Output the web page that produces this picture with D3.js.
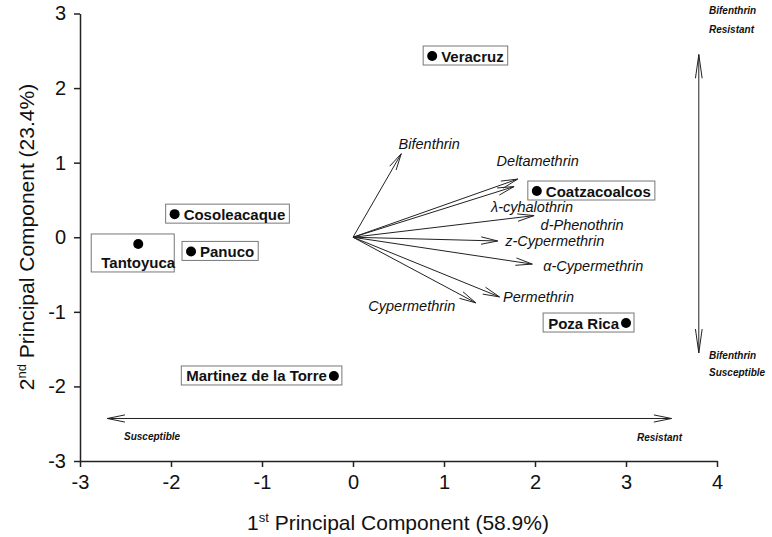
<!DOCTYPE html>
<html>
<head>
<meta charset="utf-8">
<script src="https://cdn.jsdelivr.net/npm/d3@7"></script>
<style>
  body { margin: 0; background: #fff; }
  svg { font-family: "Liberation Sans", Arial, sans-serif; }
</style>
</head>
<body>
<svg id="chart" width="772" height="537"></svg>
<script>
// sites (PCA scores)
const sites = ["Veracruz", "Coatzacoalcos", "Cosoleacaque", "Tantoyuca", "Panuco", "Poza Rica", "Martinez de la Torre"];
const siteX = [0.87, 2.02, -1.96, -2.36, -1.78, 3.00, -0.21];
const siteY = [2.43, 0.62, 0.31, -0.09, -0.19, -1.15, -1.86];
const labelSide = ["right", "right", "right", "below", "right", "left", "left"];

// insecticide loadings
const chems = ["Bifenthrin", "Deltamethrin", "λ-cyhalothrin", "d-Phenothrin", "z-Cypermethrin", "α-Cypermethrin", "Permethrin", "Cypermethrin"];
const chemX = [0.53, 1.81, 1.77, 1.99, 1.59, 1.97, 1.61, 1.35];
const chemY = [1.12, 0.78, 0.68, 0.29, -0.05, -0.36, -0.80, -0.88];
// label offsets in px
const chemDx = [28, 20, 18, 48, 57, 61, 39, -64];
const chemDy = [-5, -13, 25, 14, 5, 7, 5, 8];

const xTicks = [-3, -2, -1, 0, 1, 2, 3, 4];
const yTicks = [-3, -2, -1, 0, 1, 2, 3];

const svg = d3.select("#chart");
const x = d3.scaleLinear().domain([-3, 4]).range([80, 717]);
const y = d3.scaleLinear().domain([-3, 3]).range([461, 13.5]);

// axes
const xAxis = svg.append("g")
  .attr("transform", `translate(0,${y(-3)})`)
  .call(d3.axisBottom(x).tickValues(xTicks).tickSize(6).tickSizeOuter(0).tickFormat(d => String(d)));
const yAxis = svg.append("g")
  .attr("transform", `translate(${x(-3)},0)`)
  .call(d3.axisLeft(y).tickValues(yTicks).tickSize(6).tickSizeOuter(0).tickFormat(d => String(d)));
[xAxis, yAxis].forEach(a => {
  a.selectAll("path, line").attr("stroke", "#222").attr("stroke-width", 1.5);
  a.selectAll("text").attr("font-size", 20).attr("fill", "#111")
    .attr("font-family", "Liberation Sans, Arial, sans-serif");
});
xAxis.selectAll("text").attr("dy", "0.95em");
yAxis.selectAll("text").attr("dx", "-0.25em");

// axis titles
const xt = svg.append("text").attr("x", 398).attr("y", 530)
  .attr("text-anchor", "middle").attr("font-size", 21).attr("fill", "#111");
xt.append("tspan").text("1");
xt.append("tspan").text("st").attr("font-size", 13).attr("dy", -8);
xt.append("tspan").text(" Principal Component (58.9%)").attr("dy", 8);

const yt = svg.append("text").attr("transform", "translate(34,237) rotate(-90)")
  .attr("text-anchor", "middle").attr("font-size", 21).attr("fill", "#111");
yt.append("tspan").text("2");
yt.append("tspan").text("nd").attr("font-size", 13).attr("dy", -8);
yt.append("tspan").text(" Principal Component (23.4%)").attr("dy", 8);

// arrow heads (open V)
function head(g, x1, y1, x2, y2, len, ang) {
  const a = Math.atan2(y2 - y1, x2 - x1);
  const p1 = [x2 - len * Math.cos(a - ang), y2 - len * Math.sin(a - ang)];
  const p2 = [x2 - len * Math.cos(a + ang), y2 - len * Math.sin(a + ang)];
  g.append("path")
    .attr("d", `M${p1[0]},${p1[1]}L${x2},${y2}L${p2[0]},${p2[1]}`)
    .attr("fill", "none").attr("stroke", "#222").attr("stroke-width", 1);
}

// loading vectors
const vg = svg.append("g");
chems.forEach((c, i) => {
  const x0 = x(0), y0 = y(0), x1 = x(chemX[i]), y1 = y(chemY[i]);
  vg.append("line").attr("x1", x0).attr("y1", y0).attr("x2", x1).attr("y2", y1)
    .attr("stroke", "#222").attr("stroke-width", 1);
  head(vg, x0, y0, x1, y1, 17, 0.22);
  vg.append("text").attr("x", x1 + chemDx[i]).attr("y", y1 + chemDy[i])
    .attr("text-anchor", "middle").attr("font-size", 14.5).attr("font-style", "italic")
    .attr("fill", "#111").text(c);
});

// sites with boxed labels
const sg = svg.append("g");
sites.forEach((s, i) => {
  const cx = x(siteX[i]), cy = y(siteY[i]);
  const t = sg.append("text").attr("font-size", 15).attr("font-weight", "bold").attr("fill", "#111").text(s);
  let box;
  if (labelSide[i] === "right") {
    t.attr("x", cx + 9).attr("y", cy + 5.5);
    const w = t.node().getComputedTextLength();
    box = [cx - 9, cy - 10, w + 22, 19];
  } else if (labelSide[i] === "left") {
    t.attr("x", cx - 7).attr("y", cy + 5.5).attr("text-anchor", "end");
    const w = t.node().getComputedTextLength();
    box = [cx - w - 12, cy - 10, w + 20, 19];
  } else {
    t.attr("x", cx).attr("y", cy + 24).attr("text-anchor", "middle");
    box = [cx - 47, cy - 10, 83, 38];
  }
  sg.insert("rect", "text").attr("x", box[0]).attr("y", box[1]).attr("width", box[2]).attr("height", box[3])
    .attr("fill", "#fff").attr("stroke", "#777").attr("stroke-width", 1);
  sg.append("circle").attr("cx", cx).attr("cy", cy).attr("r", 5).attr("fill", "#000");
});

// interpretive double arrows
const ag = svg.append("g");
const vx = x(3.8), vTop = y(2.45), vBot = y(-1.55);
ag.append("line").attr("x1", vx).attr("x2", vx).attr("y1", vTop).attr("y2", vBot).attr("stroke", "#222");
head(ag, vx, vBot, vx, vTop, 24, 0.14);
head(ag, vx, vTop, vx, vBot, 24, 0.14);
const hy = y(-2.43), hL = x(-2.7), hR = x(3.5);
ag.append("line").attr("x1", hL).attr("x2", hR).attr("y1", hy).attr("y2", hy).attr("stroke", "#222");
head(ag, hR, hy, hL, hy, 18, 0.2);
head(ag, hL, hy, hR, hy, 18, 0.2);

const notes = [
  ["Bifenthrin", 709, 14, "start"], ["Resistant", 709, 33, "start"],
  ["Bifenthrin", 709, 359, "start"], ["Susceptible", 709, 376, "start"],
  ["Susceptible", 124, 440, "start"], ["Resistant", 682, 441, "end"]
];
notes.forEach(n => {
  ag.append("text").attr("x", n[1]).attr("y", n[2]).attr("text-anchor", n[3])
    .attr("font-size", 10).attr("font-weight", "bold").attr("font-style", "italic")
    .attr("fill", "#111").text(n[0]);
});
</script>
</body>
</html>
